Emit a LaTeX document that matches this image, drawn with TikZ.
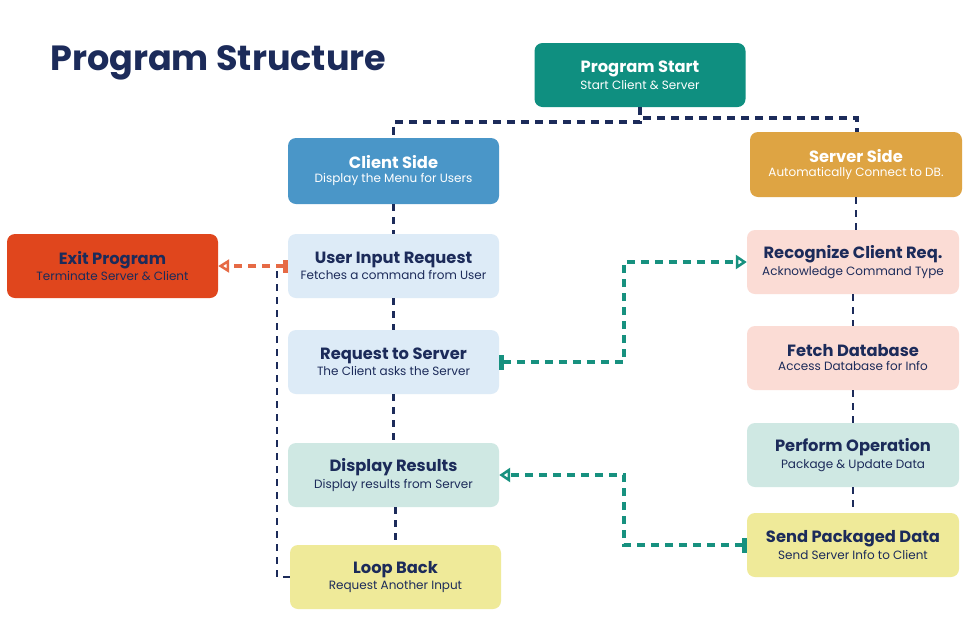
\documentclass[tikz,border=0pt]{standalone}
\usepackage{fontspec}
\setmainfont{Poppins}
\usetikzlibrary{arrows.meta}
\definecolor{navy}{HTML}{1C2B5A}
\definecolor{subnavy}{HTML}{34416A}
\definecolor{startc}{HTML}{0F8F80}
\definecolor{clientc}{HTML}{4A96C8}
\definecolor{serverc}{HTML}{DEA443}
\definecolor{exitc}{HTML}{E0461D}
\definecolor{lblue}{HTML}{DDEBF7}
\definecolor{pinkc}{HTML}{FBDCD5}
\definecolor{mintc}{HTML}{CFE8E3}
\definecolor{yellc}{HTML}{EFEA99}
\definecolor{tealline}{HTML}{17917F}
\definecolor{orangeline}{HTML}{E66A45}
\newcommand{\btxt}[2]{{\fontsize{16.3}{20}\selectfont\bfseries #1}\\[2pt]{\fontsize{12}{14}\selectfont #2}}
\tikzset{
  boxnode/.style={rounded corners=8pt, minimum width=211pt, minimum height=64pt, align=center, inner sep=0pt, text=navy},
  darkbox/.style={boxnode, text=white},
  navyline/.style={draw=navy, line width=3.3pt, dash pattern=on 8pt off 6pt},
  thinline/.style={draw=navy, line width=2.2pt, dash pattern=on 7pt off 6pt},
  tealdash/.style={draw=tealline, line width=3.3pt, dash pattern=on 8pt off 6pt},
  orangedash/.style={draw=orangeline, line width=3.3pt, dash pattern=on 8pt off 6pt},
}
\begin{document}
\begin{tikzpicture}[x=1pt,y=-1pt]
\useasboundingbox (0,0) rectangle (977,638);
\fill[white] (0,0) rectangle (977,638);
\node[anchor=base west, text=navy, font=\fontsize{35}{40}\selectfont\bfseries, inner sep=0pt] (title) at (50,70) {Program Structure};

\node[darkbox, fill=startc] (start) at (640,75) {\btxt{Program Start}{Start Client \& Server}};
\node[darkbox, fill=clientc, minimum height=66pt] (client) at (393.5,171) {\btxt{Client Side}{Display the Menu for Users}};
\node[darkbox, fill=serverc, minimum width=212pt, minimum height=65pt] (server) at (856,164.5) {\btxt{Server Side}{Automatically Connect to DB.}};
\node[boxnode, fill=exitc] (exit) at (112.5,266) {\btxt{Exit Program}{Terminate Server \& Client}};
\node[boxnode, fill=lblue] (uir) at (393.5,266) {\btxt{User Input Request}{Fetches a command from User}};
\node[boxnode, fill=lblue] (rts) at (393.5,362) {\btxt{Request to Server}{The Client asks the Server}};
\node[boxnode, fill=mintc] (disp) at (393.5,475) {\btxt{Display Results}{Display results from Server}};
\node[boxnode, fill=yellc] (loop) at (395.5,577) {\btxt{Loop Back}{Request Another Input}};
\node[boxnode, fill=pinkc, minimum width=212pt] (recog) at (853,262) {\btxt{Recognize Client Req.}{Acknowledge Command Type}};
\node[boxnode, fill=pinkc, minimum width=212pt] (fetch) at (853,358) {\btxt{Fetch Database}{Access Database for Info}};
\node[boxnode, fill=mintc, minimum width=212pt] (perf) at (853,455) {\btxt{Perform Operation}{Package \& Update Data}};
\node[boxnode, fill=yellc, minimum width=212pt] (send) at (853,545) {\btxt{Send Packaged Data}{Send Server Info to Client}};

\coordinate (jl) at (393.5,122);
\coordinate (jr) at (857,118);
\coordinate (tx) at (624,0);
\coordinate (lx) at (277,266);

\draw[navyline] (start.south) |- (jl) -- (client.north);
\draw[navyline] (start.south) |- (jr) -- (jr |- server.north);

\draw[thinline] (client.south) -- (uir.north);
\draw[thinline] (uir.south) -- (rts.north);
\draw[thinline] (rts.south) -- (disp.north);
\draw[thinline] (disp.south -| loop.north) -- (loop.north);
\draw[thinline] (server.south) -- (server.south |- recog.north);
\draw[thinline] (recog.south) -- (fetch.north);
\draw[thinline] (fetch.south) -- (perf.north);
\draw[thinline] (perf.south) -- (send.north);
\draw[thinline] (loop.west) -| (lx);

\draw[orangedash, {Rectangle[length=5pt,width=13pt,sep=0pt]}-{Triangle[open,length=11pt,width=13pt,line width=2.5pt]}] (uir.west) -- (exit.east);
\draw[tealdash, {Rectangle[length=5pt,width=15pt]}-{Triangle[open,length=11pt,width=14pt,line width=2.5pt]}] (rts.east) -| (tx |- recog.west) -- (recog.west);
\draw[tealdash, {Rectangle[length=5pt,width=15pt]}-{Triangle[open,length=11pt,width=14pt,line width=2.5pt]}] (send.west) -| (tx |- disp.east) -- (disp.east);
\end{tikzpicture}
\end{document}
